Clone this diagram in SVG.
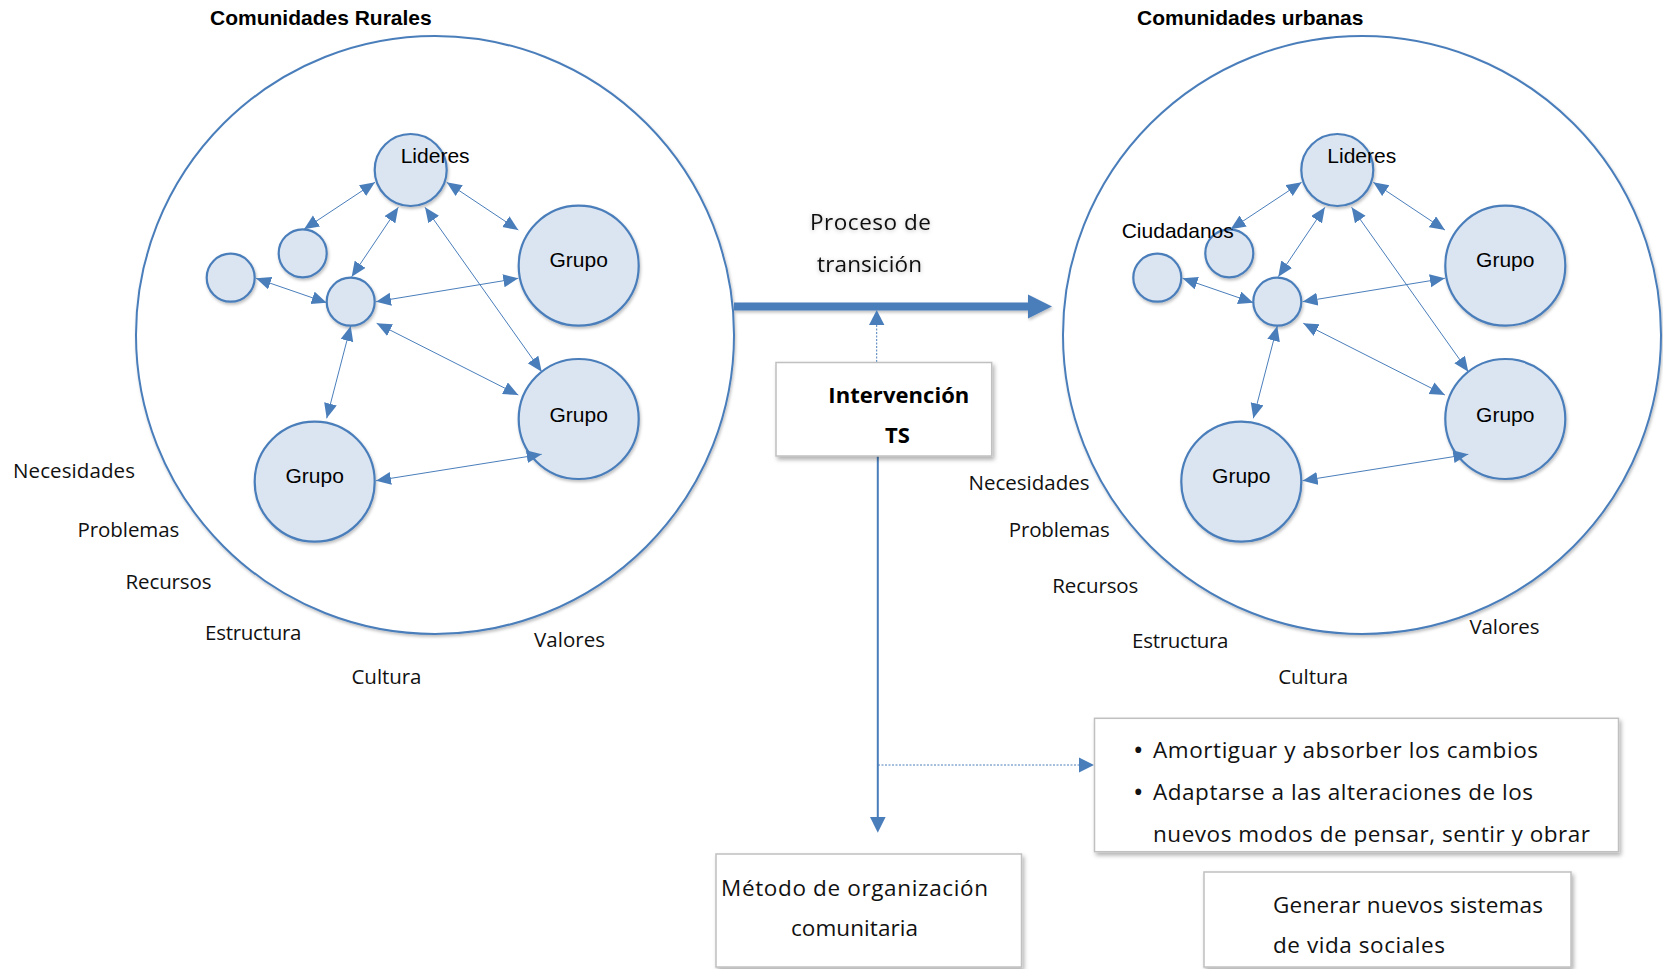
<svg xmlns="http://www.w3.org/2000/svg" width="1663" height="969" viewBox="0 0 1663 969">
<style>
.big{fill:#ffffff;stroke:#4a7ebb;stroke-width:2}
.node{fill:#dbe5f1;stroke:#4a7ebb;stroke-width:2.2}
.lab{font-family:"Liberation Sans",Arial,sans-serif;font-size:21px;fill:#000}
.title{font-family:"Liberation Sans",Arial,sans-serif;font-size:21px;font-weight:bold;fill:#000}
.t{font-family:"Open Sans","Noto Sans",sans-serif;font-size:20.5px;fill:#111}
.t22{font-family:"Open Sans","Noto Sans",sans-serif;font-size:22.5px;fill:#111}
.bul{font-family:"Open Sans","Noto Sans",sans-serif;font-size:28px;fill:#111}
.tb{font-family:"Open Sans","Noto Sans",sans-serif;font-size:22px;font-weight:bold;fill:#000}
.ln{fill:none;stroke:#4a7ebb;stroke-width:1;marker-start:url(#ah);marker-end:url(#ah)}
.box{fill:#ffffff;stroke:#c0c0c0;stroke-width:1.5}
</style>
<defs>
<marker id="ah" markerUnits="userSpaceOnUse" markerWidth="16" markerHeight="14" refX="15" refY="6.5" orient="auto-start-reverse"><path d="M0,0 L15,6.5 L0,13 z" fill="#4a7ebb"/></marker>
<filter id="sh" x="-10%" y="-10%" width="130%" height="130%"><feDropShadow dx="2" dy="3" stdDeviation="2" flood-color="#000" flood-opacity="0.3"/></filter>
<filter id="sh2" x="-10%" y="-10%" width="130%" height="130%"><feDropShadow dx="1" dy="2" stdDeviation="1.5" flood-color="#000" flood-opacity="0.25"/></filter>
<filter id="glow" x="-10%" y="-30%" width="120%" height="160%"><feDropShadow dx="0" dy="1" stdDeviation="2" flood-color="#000" flood-opacity="0.25"/></filter>
<clipPath id="bclip"><rect x="1094" y="718" width="526" height="128"/></clipPath>
</defs>

<rect width="1663" height="969" fill="#ffffff"/>

<g id="rural">
<text class="title" x="210" y="25">Comunidades Rurales</text>
<circle class="big" cx="435" cy="335" r="299" filter="url(#sh2)"/>
</g>
<g id="urban">
<text class="title" x="1137" y="25">Comunidades urbanas</text>
<circle class="big" cx="1362" cy="335" r="299" filter="url(#sh2)"/>
</g>

<g id="r-lideres"><circle class="node" cx="410.7" cy="170" r="36" filter="url(#sh2)"/><text class="lab" x="400.7" y="162.7">Lideres</text></g>
<g id="r-small-a"><circle class="node" cx="302.7" cy="253.3" r="24" filter="url(#sh2)"/></g>
<g id="r-small-b"><circle class="node" cx="230.7" cy="277.7" r="24" filter="url(#sh2)"/></g>
<g id="r-mid"><circle class="node" cx="350.7" cy="301.7" r="24" filter="url(#sh2)"/></g>
<g id="r-grupo1"><circle class="node" cx="578.7" cy="265.7" r="60" filter="url(#sh2)"/><text class="lab" x="578.7" y="266.7" text-anchor="middle">Grupo</text></g>
<g id="r-grupo2"><circle class="node" cx="578.7" cy="419" r="60" filter="url(#sh2)"/><text class="lab" x="578.7" y="421.7" text-anchor="middle">Grupo</text></g>
<g id="r-grupo3"><circle class="node" cx="314.7" cy="481.7" r="60" filter="url(#sh2)"/><text class="lab" x="314.7" y="482.7" text-anchor="middle">Grupo</text></g>

<g id="u-lideres"><circle class="node" cx="1337.3" cy="170" r="36" filter="url(#sh2)"/><text class="lab" x="1327.3" y="162.7">Lideres</text></g>
<g id="u-small-a"><circle class="node" cx="1229.3" cy="253.3" r="24" filter="url(#sh2)"/><text class="lab" x="1121.7" y="238.3">Ciudadanos</text></g>
<g id="u-small-b"><circle class="node" cx="1157.3" cy="277.7" r="24" filter="url(#sh2)"/></g>
<g id="u-mid"><circle class="node" cx="1277.3" cy="301.7" r="24" filter="url(#sh2)"/></g>
<g id="u-grupo1"><circle class="node" cx="1505.3" cy="265.7" r="60" filter="url(#sh2)"/><text class="lab" x="1505.3" y="266.7" text-anchor="middle">Grupo</text></g>
<g id="u-grupo2"><circle class="node" cx="1505.3" cy="419" r="60" filter="url(#sh2)"/><text class="lab" x="1505.3" y="421.7" text-anchor="middle">Grupo</text></g>
<g id="u-grupo3"><circle class="node" cx="1241.3" cy="481.7" r="60" filter="url(#sh2)"/><text class="lab" x="1241.3" y="482.7" text-anchor="middle">Grupo</text></g>

<g id="connectors">
<g id="rural-links">
<path class="ln" d="M375,182.3 L304,229.3"/>
<path class="ln" d="M446.7,182.3 L518.3,230"/>
<path class="ln" d="M398.3,207.3 L351.7,276.7"/>
<path class="ln" d="M425,207.3 L541.7,371.7"/>
<path class="ln" d="M256,278.3 L326.7,302.7"/>
<path class="ln" d="M376,301.7 L518.3,278.3"/>
<path class="ln" d="M376.7,323.3 L518.3,395"/>
<path class="ln" d="M350.7,326 L326.7,418.3"/>
<path class="ln" d="M376,480.7 L541.7,454.3"/>
</g>
<g id="urban-links" transform="translate(926.6,0)">
<path class="ln" d="M375,182.3 L304,229.3"/>
<path class="ln" d="M446.7,182.3 L518.3,230"/>
<path class="ln" d="M398.3,207.3 L351.7,276.7"/>
<path class="ln" d="M425,207.3 L541.7,371.7"/>
<path class="ln" d="M256,278.3 L326.7,302.7"/>
<path class="ln" d="M376,301.7 L518.3,278.3"/>
<path class="ln" d="M376.7,323.3 L518.3,395"/>
<path class="ln" d="M350.7,326 L326.7,418.3"/>
<path class="ln" d="M376,480.7 L541.7,454.3"/>
</g>
<g id="transition-arrow" filter="url(#sh2)">
<line x1="734" y1="306.5" x2="1030" y2="306.5" stroke="#4a7ebb" stroke-width="8"/>
<polygon points="1028,294.5 1052,306.5 1028,318.5" fill="#4a7ebb"/>
</g>
<line x1="876.7" y1="362" x2="876.7" y2="324" stroke="#4a7ebb" stroke-width="1" stroke-dasharray="2 1.5"/>
<polygon points="869,325 876.7,310 884.4,325" fill="#4a7ebb"/>
<line x1="877.8" y1="456" x2="877.8" y2="818" stroke="#4a7ebb" stroke-width="2"/>
<polygon points="870,817 877.8,832.7 885.6,817" fill="#4a7ebb"/>
<line x1="878" y1="765" x2="1080" y2="765" stroke="#4a7ebb" stroke-width="1" stroke-dasharray="2 1.5"/>
<polygon points="1079,757.5 1094,765 1079,772.5" fill="#4a7ebb"/>
</g>

<g id="proceso" filter="url(#glow)">
<text class="t22" x="810" y="230" textLength="121" lengthAdjust="spacing">Proceso de</text>
<text class="t22" x="817" y="271.7" textLength="105" lengthAdjust="spacing">transición</text>
</g>

<g id="intervencion">
<rect class="box" x="776" y="362.5" width="215.7" height="93.5" filter="url(#sh)"/>
<text class="tb" x="828.3" y="403.3" textLength="141" lengthAdjust="spacing">Intervención</text>
<text class="tb" x="885" y="443.3">TS</text>
</g>

<g id="rural-labels">
<text class="t" x="13" y="478" textLength="122" lengthAdjust="spacing">Necesidades</text>
<text class="t" x="77.5" y="536.5" textLength="101.8" lengthAdjust="spacing">Problemas</text>
<text class="t" x="125.5" y="588.5" textLength="86" lengthAdjust="spacing">Recursos</text>
<text class="t" x="205" y="640" textLength="96.5" lengthAdjust="spacing">Estructura</text>
<text class="t" x="351.5" y="683.5" textLength="70" lengthAdjust="spacing">Cultura</text>
<text class="t" x="534" y="647.3" textLength="71" lengthAdjust="spacing">Valores</text>
</g>
<g id="urban-labels">
<text class="t" x="968.5" y="490" textLength="121" lengthAdjust="spacing">Necesidades</text>
<text class="t" x="1008.8" y="537" textLength="101" lengthAdjust="spacing">Problemas</text>
<text class="t" x="1052.3" y="593" textLength="86" lengthAdjust="spacing">Recursos</text>
<text class="t" x="1132" y="647.5" textLength="96.5" lengthAdjust="spacing">Estructura</text>
<text class="t" x="1278.2" y="683.5" textLength="70" lengthAdjust="spacing">Cultura</text>
<text class="t" x="1469.5" y="633.5" textLength="70" lengthAdjust="spacing">Valores</text>
</g>

<g id="cambios">
<rect class="box" x="1094.5" y="718.3" width="524" height="133.4" filter="url(#sh)"/>
<g clip-path="url(#bclip)">
<text class="bul" x="1133" y="760">•</text>
<text class="t22" x="1153" y="758.3" textLength="385" lengthAdjust="spacing">Amortiguar y absorber los cambios</text>
<text class="bul" x="1133" y="801.7">•</text>
<text class="t22" x="1153" y="800" textLength="380" lengthAdjust="spacing">Adaptarse a las alteraciones de los</text>
<text class="t22" x="1153" y="842" textLength="437" lengthAdjust="spacing">nuevos modos de pensar, sentir y obrar</text>
</g>
</g>

<g id="metodo">
<rect class="box" x="716" y="854" width="305.5" height="113" filter="url(#sh)"/>
<text class="t22" x="721" y="895.5" textLength="267" lengthAdjust="spacing">Método de organización</text>
<text class="t22" x="791" y="936" textLength="127" lengthAdjust="spacing">comunitaria</text>
</g>

<g id="generar">
<rect class="box" x="1204" y="872" width="367" height="95" filter="url(#sh)"/>
<text class="t22" x="1273" y="912.5" textLength="270" lengthAdjust="spacing">Generar nuevos sistemas</text>
<text class="t22" x="1273" y="952.5" textLength="172" lengthAdjust="spacing">de vida sociales</text>
</g>
</svg>
